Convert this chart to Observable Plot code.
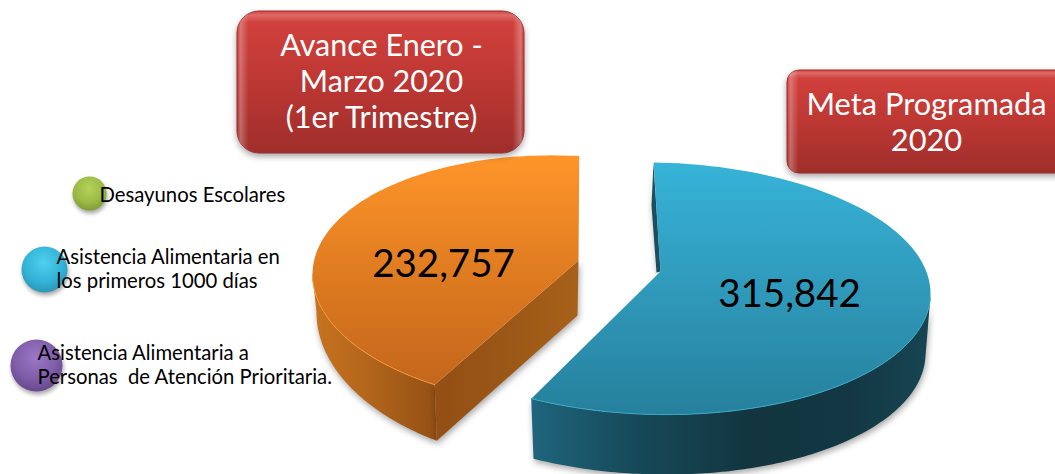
<!DOCTYPE html>
<html>
<head>
<meta charset="utf-8">
<script src="https://cdn.jsdelivr.net/npm/d3@7"></script>
<script src="https://cdn.jsdelivr.net/npm/@observablehq/plot@0.6"></script>
<style>html,body{margin:0;padding:0;background:#fff}svg{display:block}</style>
</head>
<body>
<div id="chart"></div>
<script>
// ---- values ----
const sliceNames = ["Avance Enero -\nMarzo 2020\n(1er Trimestre)", "Meta Programada\n2020"];
const sliceValues = [232757, 315842];
const sliceLabels = ["232,757", "315,842"];
const legendLabels = ["Desayunos Escolares", "Asistencia Alimentaria en\nlos primeros 1000 días", "Asistencia Alimentaria a\nPersonas  de Atención Prioritaria."];

// ---- layout (separate from the data) ----
const W = 1055, H = 474;
const total = d3.sum(sliceValues);
const sweep = sliceValues.map(v => 360 * v / total);
const orangeS = {cx: 563, cy: 280, rx: 251, ry: 125, k: 6, start: 3.6, dir: -1, sweep: sweep[0], apex: [578, 260],
  bcx: 563, bcy: 318, brx: 247, bry: 146, apexB: [577, 315]};
const blueS = {cx: 655, cy: 288, rx: 275, ry: 126, k: 5, start: -0.4, dir: 1, sweep: sweep[1], apex: [660, 271],
  bcx: 655, bcy: 348, brx: 270, bry: 126};

const rad = d => d * Math.PI / 180;
function arc(cx, cy, rx, ry, k, from, to) {
  return d3.range(0, 121).map(i => {
    const a = rad(from + (to - from) * i / 120);
    return {x: cx + rx * Math.sin(a), y: cy - ry * Math.cos(a) + k * Math.sin(a)};
  });
}
const P = (p) => ({x: p[0], y: p[1]});
function topFace(s) {
  const end = s.start + s.dir * s.sweep;
  return [P(s.apex), ...arc(s.cx, s.cy, s.rx, s.ry, s.k, s.start, end), P(s.apex)];
}
function rim(s, from, to) { return arc(s.cx, s.cy, s.rx, s.ry, s.k, from, to); }
function wall(s, from, to) {
  return [...arc(s.cx, s.cy, s.rx, s.ry, s.k, from, to), ...arc(s.bcx, s.bcy, s.brx, s.bry, s.k, to, from)];
}
const oEnd = orangeS.start + orangeS.dir * orangeS.sweep;
const bEnd = blueS.start + blueS.dir * blueS.sweep;
const oFrontA = arc(orangeS.cx, orangeS.cy, orangeS.rx, orangeS.ry, orangeS.k, oEnd, oEnd)[0];
const oFrontB = arc(orangeS.bcx, orangeS.bcy, orangeS.brx, orangeS.bry, orangeS.k, oEnd, oEnd)[0];

const pointXY = {x: "x", y: "y"};
const defs = () => {
  const d = d3.create("svg:defs");
  const lin = (id, dirn, stops) => {
    const g = d.append("linearGradient").attr("id", id)
      .attr("x1", 0).attr("y1", 0).attr("x2", dirn === "h" ? 1 : 0).attr("y2", dirn === "h" ? 0 : 1);
    stops.forEach(([o, c, a]) => g.append("stop").attr("offset", o).attr("stop-color", c).attr("stop-opacity", a ?? 1));
  };
  lin("oTop", "v", [[0, "#ff952a"], [0.55, "#dd7a20"], [1, "#c4661c"]]);
  lin("bTop", "v", [[0, "#36b3d8"], [0.55, "#2f97b8"], [1, "#25809c"]]);
  lin("oWall", "h", [[0, "#c8731f"], [0.5, "#b0641b"], [1, "#934f14"]]);
  lin("oCut", "h", [[0, "#934f14"], [0.5, "#9b5716"], [1, "#a76119"]]);
  lin("bWall", "h", [[0, "#1f657d"], [0.25, "#174a5a"], [0.55, "#12353f"], [0.8, "#133843"], [1, "#174553"]]);
  lin("red", "v", [[0, "#d4423e"], [0.5, "#bd3733"], [1, "#9f2e2b"]]);
  lin("bevelH", "h", [[0, "#fff", 0], [0.012, "#fff", 0.28], [0.04, "#fff", 0], [0.96, "#fff", 0], [0.988, "#fff", 0.28], [1, "#fff", 0]]);
  lin("bevelV", "v", [[0, "#fff", 0], [0.03, "#fff", 0.22], [0.08, "#fff", 0], [1, "#fff", 0]]);
  const sph = (id, c0, c1, c2) => {
    const g = d.append("radialGradient").attr("id", id).attr("cx", 0.48).attr("cy", 0.35).attr("r", 0.68);
    [[0, c0], [0.6, c1], [1, c2]].forEach(([o, c]) => g.append("stop").attr("offset", o).attr("stop-color", c));
  };
  sph("sGreen", "#b5d25a", "#9bbb45", "#7c9a34");
  sph("sBlue", "#4fd0ee", "#33b4d8", "#2a93b4");
  sph("sPurple", "#9c78c8", "#7f5da8", "#644689");
  return d.node();
};

const shadow = "drop-shadow(1px 3px 3px rgba(0,0,0,.35))";
const font = "Lato, 'Open Sans', sans-serif";

const spheres = [
  {x: 89, y: 193, r: 17, fill: "url(#sGreen)"},
  {x: 44, y: 269, r: 23, fill: "url(#sBlue)"},
  {x: 36, y: 365, r: 26, fill: "url(#sPurple)"}
];
const legendPos = [[99, 194], [56, 268], [37, 364]];
const boxes = [
  {x1: 237, x2: 524, y1: 11, y2: 153, r: 22, tx: 381, ty: 80, name: sliceNames[0], fs: 30.5},
  {x1: 787, x2: 1075, y1: 70, y2: 173, r: 12, tx: 926, ty: 121, name: sliceNames[1], fs: 30.8}
];
const valuePos = [[443, 264], [789, 294]];

const plot = Plot.plot({
  width: W, height: H, margin: 0,
  x: {domain: [0, W], axis: null},
  y: {domain: [H, 0], axis: null},
  style: {background: "transparent", fontFamily: font},
  marks: [
    defs,
    ...spheres.map(s => Plot.dot([s], {x: "x", y: "y", r: s.r, fill: s.fill, stroke: "none", imageFilter: "drop-shadow(1px 3px 2px rgba(0,0,0,.35))"})),
    ...legendLabels.map((t, i) => Plot.text([t], {x: () => legendPos[i][0], y: () => legendPos[i][1], text: d => d, textAnchor: "start", fontSize: 20.3, lineHeight: 1.17, fill: "#000"})),
    // orange slice
    Plot.line(wall(orangeS, -90, oEnd), {...pointXY, fill: "url(#oWall)", stroke: "none", imageFilter: shadow}),
    Plot.line([oFrontA, P(orangeS.apex), P(orangeS.apexB), oFrontB, oFrontA], {...pointXY, fill: "url(#oCut)", stroke: "none", imageFilter: shadow}),
    Plot.line(topFace(orangeS), {...pointXY, fill: "url(#oTop)", stroke: "none"}),
    Plot.line(rim(orangeS, -90, oEnd), {...pointXY, stroke: "#f59a3a", strokeWidth: 1}),
    // blue slice
    Plot.line([{x: 653, y: 163}, P(blueS.apex), {x: 656, y: 272}, {x: 651, y: 205}], {...pointXY, fill: "#1b4f60", stroke: "none", imageFilter: shadow}),
    Plot.line(wall(blueS, 92, bEnd), {...pointXY, fill: "url(#bWall)", stroke: "none", imageFilter: shadow}),
    Plot.line(topFace(blueS), {...pointXY, fill: "url(#bTop)", stroke: "none"}),
    Plot.line(rim(blueS, 92, bEnd), {...pointXY, stroke: "#38a8c8", strokeWidth: 1}),
    // value labels
    ...sliceLabels.map((t, i) => Plot.text([t], {x: () => valuePos[i][0], y: () => valuePos[i][1], text: d => d, fontSize: 38.5, fill: "#000"})),
    // title boxes
    ...boxes.map(b => Plot.rect([b], {x1: "x1", x2: "x2", y1: "y1", y2: "y2", rx: b.r, fill: "url(#red)", stroke: "#9a2d2a", strokeWidth: 1, imageFilter: "drop-shadow(0 3px 3px rgba(0,0,0,.35))"})),
    ...boxes.map(b => Plot.rect([b], {x1: "x1", x2: "x2", y1: "y1", y2: "y2", rx: b.r, fill: "url(#bevelH)"})),
    ...boxes.map(b => Plot.rect([b], {x1: "x1", x2: "x2", y1: "y1", y2: "y2", rx: b.r, fill: "url(#bevelV)"})),
    ...boxes.map(b => Plot.text([b], {x: "tx", y: "ty", text: "name", fontSize: b.fs, lineHeight: 1.17, fill: "#fff"}))
  ]
});
document.getElementById("chart").append(plot);
</script>
</body>
</html>
